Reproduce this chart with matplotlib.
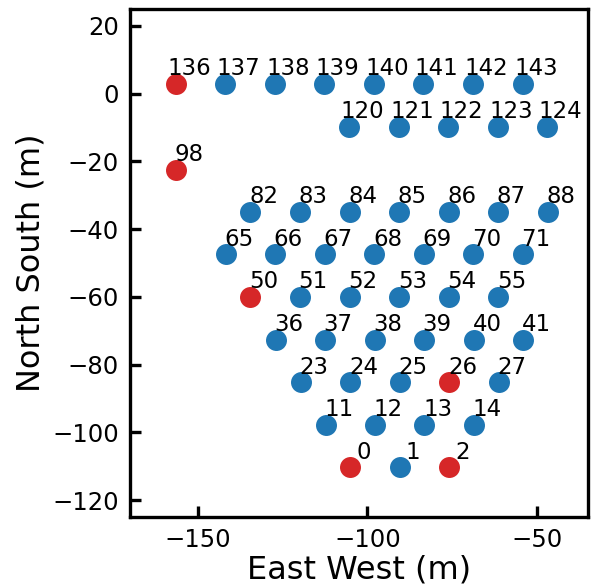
import matplotlib
matplotlib.use("Agg")
import matplotlib.pyplot as plt

antennas = [136, 137, 138, 139, 140, 141, 142, 143,
            120, 121, 122, 123, 124,
            98,
            82, 83, 84, 85, 86, 87, 88,
            65, 66, 67, 68, 69, 70, 71,
            50, 51, 52, 53, 54, 55,
            36, 37, 38, 39, 40, 41,
            23, 24, 25, 26, 27,
            11, 12, 13, 14,
            0, 1, 2]
east = [-156.5, -141.9, -127.3, -112.7, -98.1, -83.5, -68.9, -54.3,
        -105.4, -90.8, -76.2, -61.6, -47.0,
        -156.4,
        -134.5, -119.9, -105.3, -90.7, -76.1, -61.5, -46.9,
        -141.8, -127.2, -112.6, -98.0, -83.4, -68.8, -54.2,
        -134.5, -119.9, -105.3, -90.6, -76.0, -61.4,
        -127.1, -112.5, -97.9, -83.3, -68.7, -54.1,
        -119.7, -105.1, -90.5, -75.9, -61.3,
        -112.3, -97.8, -83.2, -68.6,
        -105.1, -90.5, -75.9]
north = [2.9] * 8 + [-9.7] * 5 + [-22.4] + [-34.8] * 7 + [-47.4] * 7 + \
        [-59.9] * 6 + [-72.6] * 6 + [-85.2] * 5 + [-97.7] * 4 + [-110.3] * 3
flagged = [136, 98, 50, 26, 0, 2]

fig = plt.figure(figsize=(5.92, 5.87), dpi=100)
ax = fig.add_axes([130 / 592, 70 / 587, 458 / 592, 508 / 587])

for a, x, y in zip(antennas, east, north):
    c = '#d62728' if a in flagged else '#1f77b4'
    ax.plot(x, y, 'o', color=c, markersize=15.1, markeredgewidth=0)
    ax.text(x + 3.9, y + 2.5, str(a), ha='center', va='baseline', fontsize=16.5)

ax.set_xlim(-170, -35)
ax.set_ylim(-125, 25)
ax.set_xticks([-150, -100, -50])
ax.set_yticks([20, 0, -20, -40, -60, -80, -100, -120])
ax.tick_params(direction='in', length=8, width=2.4, labelsize=17.5, pad=8)
for s in ax.spines.values():
    s.set_linewidth(2.4)
ax.set_xlabel('East West (m)', fontsize=23, labelpad=2)
ax.set_ylabel('North South (m)', fontsize=23)

fig.savefig('out.png', dpi=100)
